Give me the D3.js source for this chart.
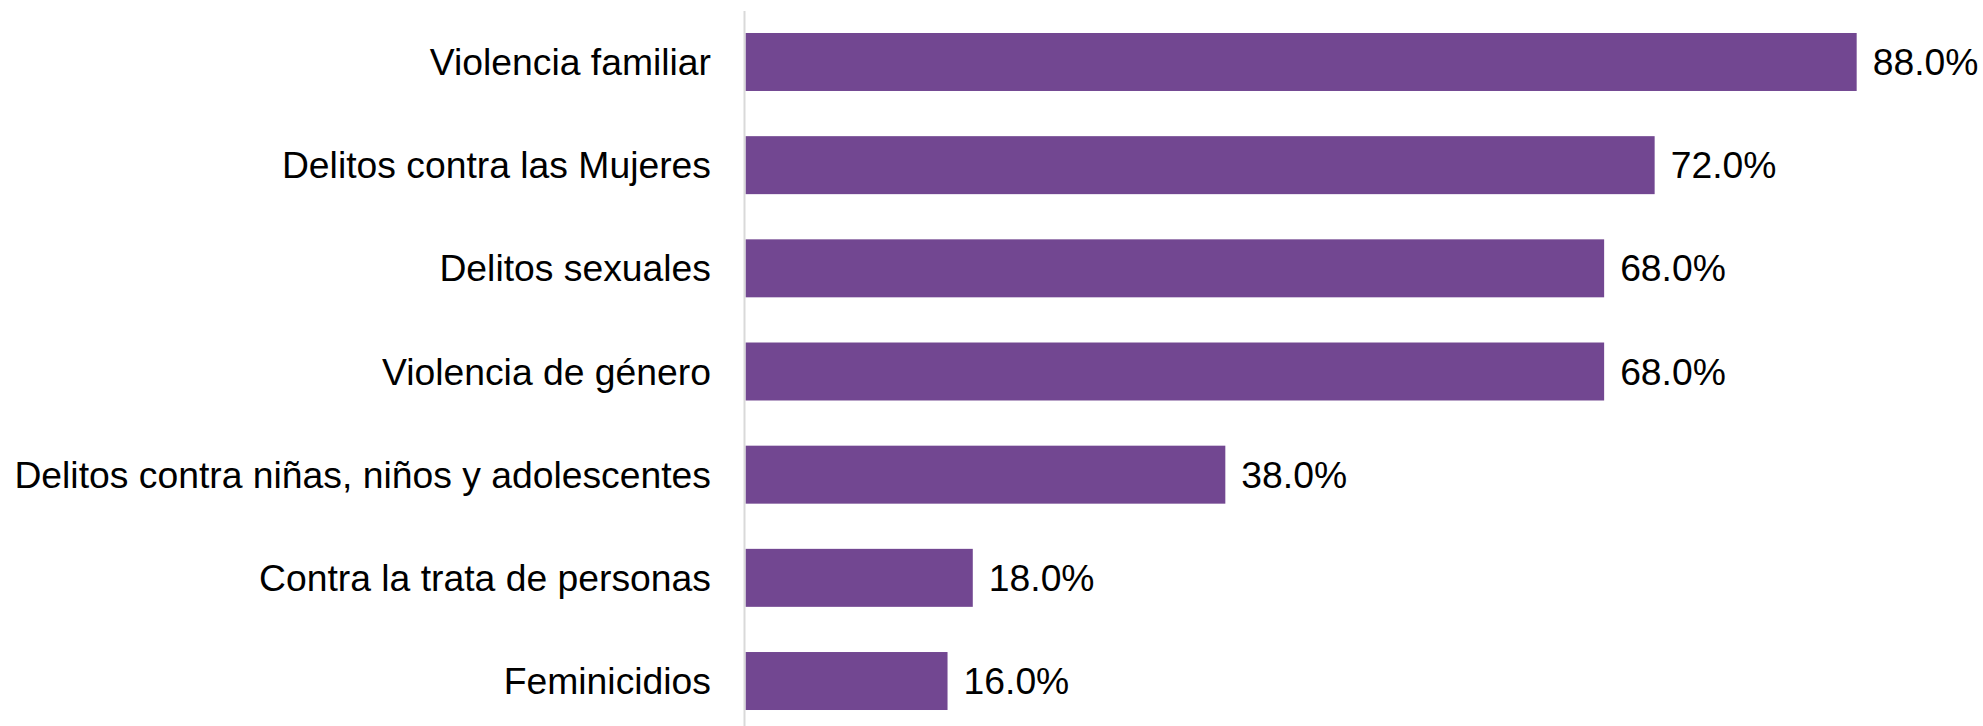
<!DOCTYPE html>
<html><head><meta charset="utf-8">
<script src="https://cdn.jsdelivr.net/npm/d3@7"></script>
<style>html,body{margin:0;padding:0;background:#fff;}svg{display:block;}</style>
</head><body>
<svg id="chart" width="1983" height="726"></svg>
<script>
const categories = ["Violencia familiar","Delitos contra las Mujeres","Delitos sexuales","Violencia de género","Delitos contra niñas, niños y adolescentes","Contra la trata de personas","Feminicidios"];
const values = [88.0, 72.0, 68.0, 68.0, 38.0, 18.0, 16.0];

const svg = d3.select("#chart");
const x0 = 745.5;
const x = d3.scaleLinear().domain([0, 100]).range([x0, x0 + 1262.7]);
const y = d3.scaleBand().domain(categories).range([10.4, 732.6]).paddingInner(0.438).paddingOuter(0.219);

svg.append("g").selectAll("rect").data(values).join("rect")
  .attr("x", x(0))
  .attr("y", (d,i) => y(categories[i]))
  .attr("width", d => x(d) - x(0))
  .attr("height", y.bandwidth())
  .attr("fill", "#724791");

svg.append("line").attr("x1", 744.5).attr("x2", 744.5).attr("y1", 11).attr("y2", 726)
  .attr("stroke", "#d9d9d9").attr("stroke-width", 2);

const font = "'Liberation Sans', Arial, sans-serif";
svg.append("g").selectAll("text").data(categories).join("text")
  .attr("x", 711)
  .attr("y", d => y(d) + y.bandwidth()/2)
  .attr("dy", "0.35em")
  .attr("text-anchor", "end")
  .attr("font-family", font).attr("font-size", 37.3).attr("fill", "#000")
  .text(d => d);

svg.append("g").selectAll("text").data(values).join("text")
  .attr("x", d => x(d) + 16)
  .attr("y", (d,i) => y(categories[i]) + y.bandwidth()/2)
  .attr("dy", "0.35em")
  .attr("font-family", font).attr("font-size", 37.3).attr("fill", "#000")
  .text(d => d.toFixed(1) + "%");
</script>
</body></html>
